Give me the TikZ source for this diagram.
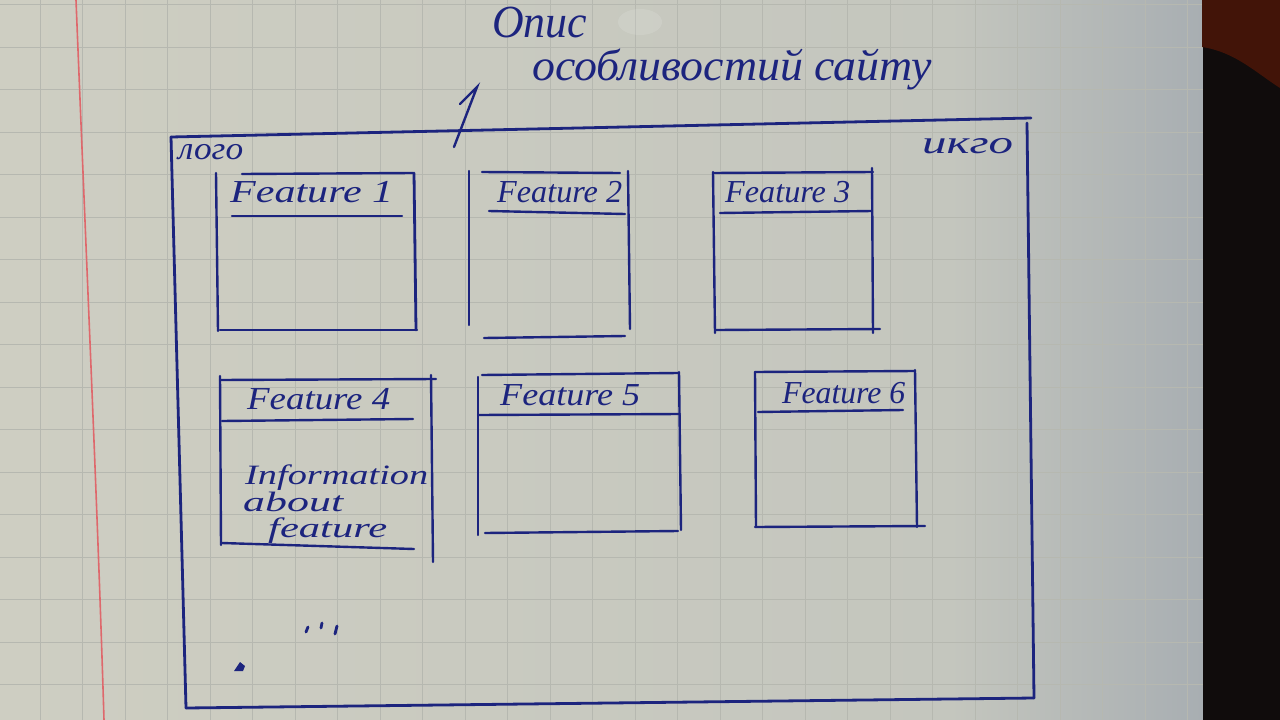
\documentclass[tikz,border=0pt]{standalone}
\usepackage{graphicx}
\usepackage{fontspec}
\setmainfont{Liberation Serif}
\definecolor{ink}{RGB}{28,36,126}
\definecolor{paperL}{RGB}{206,206,194}
\definecolor{paperM}{RGB}{196,198,190}
\definecolor{paperR}{RGB}{168,174,178}
\definecolor{gridc}{RGB}{182,184,176}
\definecolor{marginred}{RGB}{222,104,108}
\definecolor{deskdark}{RGB}{16,12,12}
\definecolor{deskred}{RGB}{66,20,8}
% handwritten-looking label, stretched to a given width
\newcommand{\handfit}[3]{\resizebox{#1}{\height}{\fontsize{#2}{#2}\selectfont\itshape #3}}
\tikzset{
  pen/.style={draw=ink, line width=2.8pt, line cap=round},
  thinpen/.style={draw=ink, line width=2.4pt, line cap=round},
  hand/.style={text=ink, inner sep=0pt, anchor=base west},
}
\begin{document}
\begin{tikzpicture}[x=1pt, y=-1pt]
\useasboundingbox (0,0) rectangle (1280,720);

% squared paper, darker towards the fold
\shade[left color=paperL, right color=paperM] (0,0) rectangle (950,720);
\shade[left color=paperM, right color=paperR] (950,0) rectangle (1203,720);
\foreach \gx in {40,82.5,...,1200} \draw[gridc, line width=1pt] (\gx,0) -- (\gx,720);
\foreach \gy in {4.5,47,...,720} \draw[gridc, line width=1pt] (0,\gy) -- (1203,\gy);
\fill[white, opacity=0.12] (640,22) ellipse (22 and 13);
% margin line
\draw[marginred, line width=1.6pt] (76,0) .. controls (88,300) and (98,520) .. (104,720);

% desk beyond the page
\fill[deskdark] (1203,0) rectangle (1280,720);
\fill[deskred] (1202,0) -- (1280,0) -- (1280,88) .. controls (1255,72) and (1235,52) .. (1202,47) -- cycle;

% page frame
\coordinate (fTL) at (171,137);
\coordinate (fTR) at (1031,118);
\coordinate (fBL) at (186,708);
\coordinate (fBR) at (1034,698);
\draw[pen] (fTL) -- (fTR);
\draw[pen] (fTL) -- (fBL);
\draw[pen] (fBL) -- (fBR);
\draw[pen] (1027,123) -- (fBR);

% title and pointer
\node[hand] (title1) at (492,37) {\handfit{95pt}{46}{Опис}};
\node[hand] (title2) at (532,80) {\handfit{400pt}{44}{особливостий сайту}};
\coordinate (arrowtail) at (454,147);
\coordinate (arrowtip) at (477,87);
\coordinate (arrowbarb) at (460,104);
\draw[thinpen] (arrowtail) -- (arrowtip) -- (arrowbarb);

\node[hand] (logo) at (178,159) {\handfit{65pt}{32}{лого}};
\node[hand] (info) at (922,153) {\handfit{91pt}{32}{икго}};

% Feature 1
\draw[thinpen] (216,173) -- (218,331);
\draw[thinpen] (242,174) -- (413,173);
\draw[pen] (414,173) -- (416,330);
\draw[thinpen] (220,330) -- (417,330);
\draw[thinpen] (232,216) -- (402,216);
\node[hand] (f1) at (230,202) {\handfit{163pt}{32}{Feature 1}};

% Feature 2
\draw[thinpen] (469,171) -- (469,325);
\draw[thinpen] (482,172) -- (620,173);
\draw[thinpen] (628,171) -- (630,329);
\draw[thinpen] (489,211) -- (625,214);
\draw[thinpen] (484,338) -- (625,336);
\node[hand] (f2) at (497,202) {\handfit{125pt}{32}{Feature 2}};

% Feature 3
\draw[thinpen] (713,172) -- (715,333);
\draw[thinpen] (713,173) -- (873,172);
\draw[thinpen] (872,168) -- (873,333);
\draw[thinpen] (720,213) -- (872,211);
\draw[thinpen] (716,330) -- (880,329);
\node[hand] (f3) at (725,202) {\handfit{125pt}{32}{Feature 3}};

% Feature 4
\draw[thinpen] (220,376) -- (221,545);
\draw[thinpen] (220,380) -- (436,379);
\draw[thinpen] (431,375) -- (433,562);
\draw[thinpen] (222,421) -- (413,419);
\draw[thinpen] (222,543) -- (414,549);
\node[hand] (f4) at (247,409) {\handfit{143pt}{32}{Feature 4}};
\node[hand] (f4a) at (245,484) {\handfit{183pt}{28}{Information}};
\node[hand] (f4b) at (243,511) {\handfit{100pt}{28}{about}};
\node[hand] (f4c) at (268,537) {\handfit{119pt}{28}{feature}};

% Feature 5
\draw[thinpen] (478,377) -- (478,535);
\draw[thinpen] (482,375) -- (678,373);
\draw[thinpen] (679,372) -- (681,530);
\draw[thinpen] (478,415) -- (680,414);
\draw[thinpen] (485,533) -- (678,531);
\node[hand] (f5) at (500,405) {\handfit{140pt}{32}{Feature 5}};

% Feature 6
\draw[thinpen] (755,372) -- (756,527);
\draw[thinpen] (755,372) -- (915,371);
\draw[thinpen] (915,370) -- (917,527);
\draw[thinpen] (758,412) -- (903,410);
\draw[thinpen] (755,527) -- (925,526);
\node[hand] (f6) at (782,403) {\handfit{123pt}{32}{Feature 6}};

% "more to come" marks
\draw[pen] (308,627) -- (306,632);
\draw[pen] (322,623) -- (321,628);
\draw[pen] (337,626) -- (335,634);
\fill[ink] (234,671) -- (240,662) -- (245,666) -- (243,671) -- cycle;
\end{tikzpicture}
\end{document}
